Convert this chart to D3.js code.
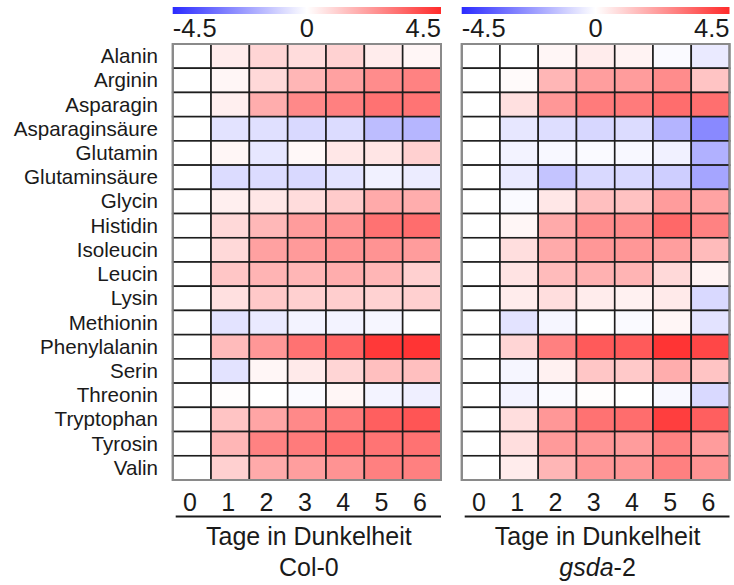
<!DOCTYPE html>
<html>
<head>
<meta charset="utf-8">
<script src="https://cdn.jsdelivr.net/npm/d3@7"></script>
<style>
  html, body { margin: 0; padding: 0; background: #fff; }
  svg text { font-family: "Liberation Sans", Arial, sans-serif; fill: #1a1a1a; }
</style>
</head>
<body>
<svg id="chart" width="734" height="585"></svg>
<script>
const aminoAcids = ["Alanin","Arginin","Asparagin","Asparaginsäure","Glutamin","Glutaminsäure","Glycin","Histidin","Isoleucin","Leucin","Lysin","Methionin","Phenylalanin","Serin","Threonin","Tryptophan","Tyrosin","Valin"];
const days = ["0","1","2","3","4","5","6"];
const colorDomain = [-4.5, 0, 4.5];
const colorTickLabels = ["-4.5", "0", "4.5"];

// log2-fold values, rows = amino acids, columns = days 0..6
const col0Values = [
  [0, 0.4, 0.9, 0.75, 0.95, 0.4, 0.2],
  [0, 0.2, 0.8, 1.55, 2.0, 2.45, 2.65],
  [0, 0.35, 1.75, 2.5, 2.7, 3.0, 2.95],
  [0, -0.6, -0.65, -0.8, -0.75, -1.4, -1.55],
  [0, 0.2, -0.5, 0.15, 0.5, 0.55, 1.0],
  [0, -0.75, -0.75, -0.8, -0.6, -0.3, -0.4],
  [0, 0.35, 0.5, 0.75, 1.1, 1.8, 1.75],
  [0, 0.8, 1.5, 2.1, 2.3, 3.0, 3.1],
  [0, 0.8, 2.0, 2.15, 2.3, 2.3, 2.1],
  [0, 1.2, 1.6, 1.55, 1.75, 1.55, 1.0],
  [0, 0.65, 1.15, 1.0, 1.05, 0.95, 1.0],
  [0, -0.6, -0.45, -0.25, -0.25, -0.2, 0],
  [0, 1.45, 2.2, 3.0, 3.3, 4.2, 4.3],
  [0, -0.6, 0.2, 0.45, 0.9, 1.35, 1.35],
  [0, 0.05, 0, -0.1, 0.2, -0.25, -0.35],
  [0, 1.25, 1.9, 2.5, 2.8, 3.4, 3.6],
  [0, 1.55, 2.65, 2.8, 3.05, 2.95, 3.0],
  [0, 1.0, 1.8, 2.05, 2.3, 2.7, 2.7]
];
const gsdaValues = [
  [0, 0, 0.2, 0.4, 0.25, -0.1, -0.45],
  [0, 0.1, 1.55, 2.05, 2.1, 2.45, 1.25],
  [0, 0.65, 2.2, 2.8, 2.8, 3.1, 3.05],
  [0, -0.5, -0.7, -0.85, -0.75, -1.6, -2.5],
  [0, -0.25, -0.15, -0.1, -0.15, -0.3, -1.65],
  [0, -0.45, -1.25, -0.8, -0.8, -1.05, -1.9],
  [0, -0.1, 0.5, 1.35, 1.3, 2.1, 1.95],
  [0, 0.2, 1.8, 2.45, 2.45, 3.2, 2.65],
  [0, 0.7, 1.8, 2.2, 2.2, 2.05, 1.45],
  [0, 0.6, 1.45, 1.65, 1.6, 0.8, 0.25],
  [0, 0.4, 0.7, 0.4, 0.3, 0.45, -0.8],
  [0, -0.6, -0.2, 0, -0.1, 0.2, -0.6],
  [0, 0.9, 2.7, 3.5, 3.5, 4.3, 3.9],
  [0, -0.2, 0.3, 1.2, 1.15, 1.75, 1.25],
  [0, -0.25, -0.1, 0.05, 0, -0.15, -0.8],
  [0, 0.7, 2.2, 3.0, 3.1, 4.1, 3.4],
  [0, 0.7, 2.15, 2.2, 2.1, 2.65, 2.1],
  [0, 0.4, 1.55, 2.2, 2.2, 2.7, 2.3]
];

const svg = d3.select("#chart");
const color = d3.scaleLinear().domain(colorDomain).range(["#2b2bff", "#ffffff", "#ff2b2b"]);

const gridTop = 44, gridBottom = 480;
const y = d3.scaleBand().domain(aminoAcids).range([gridTop, gridBottom]).padding(0);

// gradient for colour bars
const defs = svg.append("defs");
const grad = defs.append("linearGradient").attr("id", "cbar").attr("x1", "0%").attr("x2", "100%");
d3.range(0, 1.0001, 0.05).forEach(t => {
  grad.append("stop").attr("offset", (t * 100) + "%").attr("stop-color", color(-4.5 + 9 * t));
});

// row labels
svg.append("g").selectAll("text").data(aminoAcids).join("text")
  .attr("x", 158)
  .attr("y", d => y(d) + y.bandwidth() / 2 + 7)
  .attr("text-anchor", "end")
  .style("font-size", "20.6px")
  .text(d => d);

function panel(x0, x1, values, drawTitle) {
  const x = d3.scaleBand().domain(days).range([x0, x1]).padding(0);
  const g = svg.append("g");

  // colour bar
  g.append("rect").attr("x", x0).attr("y", 7).attr("width", x1 - x0).attr("height", 7)
    .attr("fill", "url(#cbar)");
  const cb = d3.scaleLinear().domain([colorDomain[0], colorDomain[2]]).range([x0, x1]);
  colorTickLabels.forEach((lab, i) => {
    g.append("text")
      .attr("x", cb(colorDomain[i]))
      .attr("y", 37)
      .attr("text-anchor", i === 0 ? "start" : (i === 2 ? "end" : "middle"))
      .style("font-size", "25.5px")
      .text(lab);
  });

  // cells
  const cells = [];
  values.forEach((row, r) => row.forEach((v, c) => cells.push({ aa: aminoAcids[r], day: days[c], v })));
  g.append("g").selectAll("rect").data(cells).join("rect")
    .attr("x", d => x(d.day))
    .attr("y", d => y(d.aa))
    .attr("width", x.bandwidth())
    .attr("height", y.bandwidth())
    .attr("fill", d => color(d.v))
    .attr("stroke", "#1e1e1e")
    .attr("stroke-width", 1.6);

  // outer border
  g.append("rect").attr("x", x0).attr("y", gridTop).attr("width", x1 - x0).attr("height", gridBottom - gridTop)
    .attr("fill", "none").attr("stroke", "#8a8a8a").attr("stroke-width", 2);

  // day labels
  g.append("g").selectAll("text").data(days).join("text")
    .attr("x", d => x(d) + x.bandwidth() / 2 - 2)
    .attr("y", 511)
    .attr("text-anchor", "middle")
    .style("font-size", "25px")
    .text(d => d);

  // underline
  g.append("line").attr("x1", x0 + 3).attr("x2", x1).attr("y1", 516.5).attr("y2", 516.5)
    .attr("stroke", "#1a1a1a").attr("stroke-width", 2);

  const cx = (x0 + x1) / 2 + 2;
  g.append("text").attr("x", cx).attr("y", 545).attr("text-anchor", "middle")
    .style("font-size", "25px").text("Tage in Dunkelheit");
  drawTitle(g.append("text").attr("x", cx).attr("y", 576).attr("text-anchor", "middle").style("font-size", "25px"));
}

panel(172.7, 441, col0Values, t => t.text("Col-0"));
panel(461.7, 729.5, gsdaValues, t => {
  t.append("tspan").style("font-style", "italic").text("gsda");
  t.append("tspan").text("-2");
});
</script>
</body>
</html>
